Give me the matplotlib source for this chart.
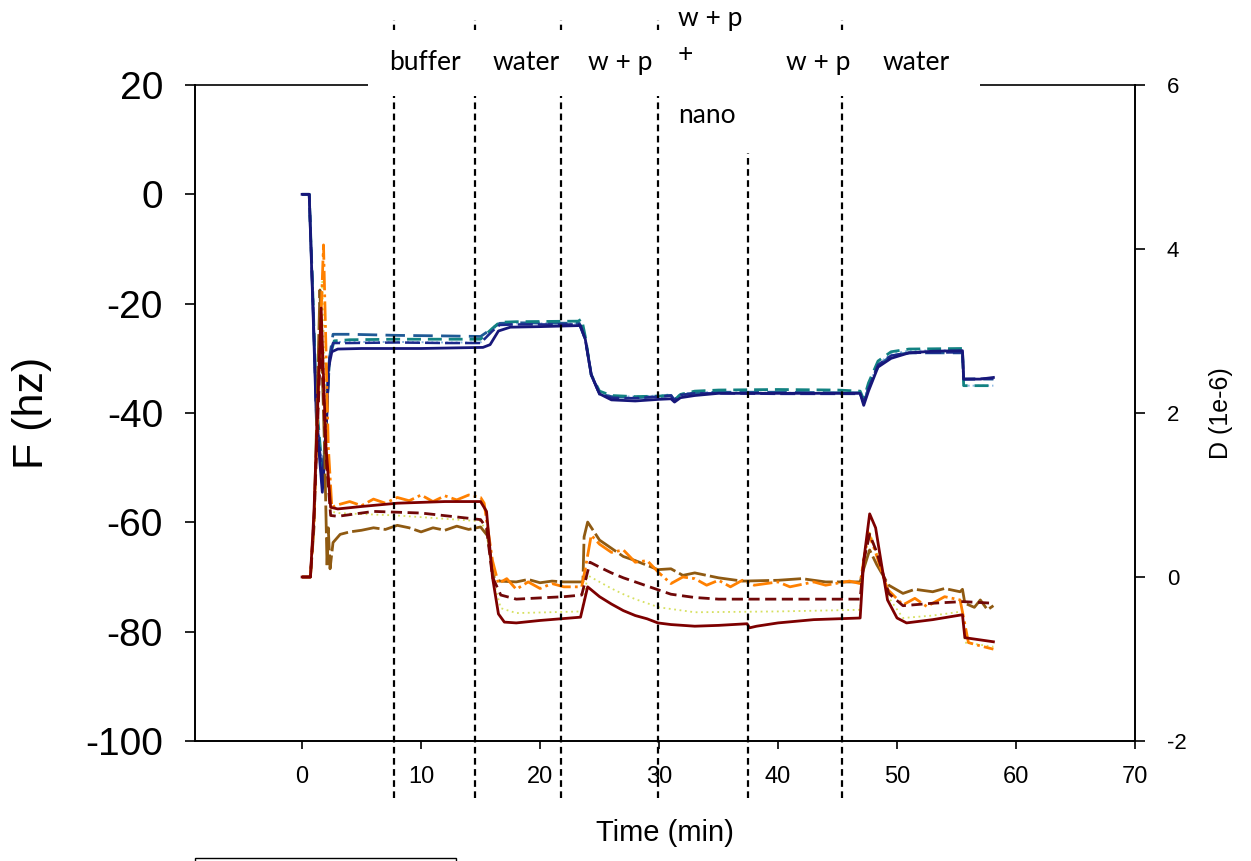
import matplotlib
matplotlib.use("Agg")
import matplotlib.pyplot as plt
import matplotlib.transforms as mtransforms
from matplotlib.patches import Rectangle

plt.rcParams["axes.unicode_minus"] = False

# frequency shifts (left axis, hz) - blue family
t_f_navy = [0, 0.6, 0.9, 1.2, 1.7, 2.0, 2.2, 2.5, 3.0, 5, 10, 15.2, 15.8, 16.5, 17.5, 20, 23.4, 23.8, 24.3, 25.0, 26.0, 28, 30, 31.0, 31.3, 31.8, 33, 35, 40, 45, 46.9, 47.2, 47.6, 48.4, 49.5, 51, 53, 55.5, 55.6, 57, 58.1]
f_navy = [0, 0, -20, -41, -54.5, -45, -32, -28.8, -28.3, -28.2, -28.2, -28.0, -27.5, -25.0, -24.3, -24.2, -24.0, -26.5, -33, -36.5, -37.6, -37.8, -37.5, -37.4, -38.0, -37.2, -36.8, -36.4, -36.4, -36.4, -36.4, -38.6, -36.0, -31.6, -30.0, -29.0, -28.7, -28.6, -33.8, -33.8, -33.5]

t_f_navy2 = [0, 0.6, 0.9, 1.2, 1.7, 2.0, 2.3, 2.6, 4, 8, 12, 15.0, 16.0, 16.6, 18, 23.3, 23.8, 24.3, 25, 26, 28, 30, 31.0, 31.3, 31.8, 33, 35, 40, 45, 46.9, 47.2, 47.6, 48.4, 49.5, 51, 55.5, 55.6, 58.1]
f_navy2 = [0, 0, -19, -40, -52, -43, -30, -27.2, -27.2, -27.1, -27.2, -27.2, -25.0, -23.9, -23.8, -23.8, -26.5, -33, -36.6, -37.2, -37.3, -37.0, -36.8, -37.6, -36.7, -36.4, -36.4, -36.5, -36.5, -36.5, -38.0, -35.5, -31.2, -29.5, -29.0, -28.9, -33.8, -33.7]

t_f_steel = [0, 0.6, 0.9, 1.2, 1.7, 2.0, 2.3, 2.6, 4, 8, 12, 15.0, 16.0, 16.6, 18, 23.3, 23.8, 24.3, 25, 26, 28, 30, 31.0, 31.3, 31.8, 33, 35, 40, 45, 46.9, 47.2, 47.6, 48.4, 49.5, 51, 55.5, 55.6, 58.1]
f_steel = [0, 0, -19, -40, -53, -44, -30, -25.6, -25.6, -25.8, -25.9, -26.0, -24.5, -23.6, -23.5, -23.6, -26.5, -33, -36.5, -37.0, -37.2, -37.0, -36.8, -37.7, -36.8, -36.3, -36.2, -36.2, -36.3, -36.3, -38.2, -35.5, -31.5, -29.5, -29.0, -29.0, -33.8, -33.8]

t_f_teal = [0, 0.6, 0.9, 1.2, 1.75, 2.0, 2.3, 2.7, 4, 8, 12, 15.0, 16.0, 16.6, 18, 23.2, 23.5, 23.8, 24.3, 25, 26, 28, 30, 31.0, 31.3, 31.8, 33, 35, 40, 45, 46.9, 47.2, 47.6, 48.4, 49.5, 51, 55.5, 55.6, 58.1]
f_teal = [0, 0, -18, -38, -51.7, -42, -30, -26.8, -26.6, -26.5, -26.5, -26.5, -24.5, -23.4, -23.3, -23.2, -22.8, -26, -33, -36.0, -36.8, -37.0, -36.9, -36.8, -37.6, -36.6, -36.0, -35.8, -35.7, -35.8, -36.0, -37.5, -34.5, -30.5, -28.8, -28.3, -28.2, -35.0, -35.0]

t_f_light = [0, 0.6, 0.9, 1.2, 1.7, 2.0, 2.3, 2.6, 4, 8, 12, 15.0, 16.0, 16.6, 18, 23.3, 23.8, 24.3, 25, 26, 28, 30, 31.0, 31.3, 31.8, 33, 35, 40, 45, 46.9, 47.2, 47.6, 48.4, 49.5, 51, 55.5, 55.6, 58.1]
f_light = [0, 0, -19, -39, -50, -42, -30, -27.0, -27.0, -27.0, -27.1, -27.1, -24.8, -23.7, -23.6, -23.6, -26.3, -33, -36.5, -36.9, -37.0, -36.8, -36.6, -37.4, -36.5, -36.2, -36.2, -36.3, -36.3, -36.3, -37.8, -35.0, -31.0, -29.2, -28.6, -28.5, -35.0, -35.0]

# dissipation shifts (right axis, 1e-6) - red/orange family
t_d_red = [0, 0.7, 1.0, 1.6, 2.0, 2.4, 3.0, 5, 8, 12, 15.0, 15.5, 16.0, 16.5, 17.0, 18, 20, 23.4, 24.0, 25, 26, 27, 28, 29, 29.9, 31, 33, 35, 37.4, 37.6, 38.2, 40, 43, 46.9, 47.2, 47.7, 48.2, 48.7, 49.2, 50.0, 50.8, 53, 55.5, 55.7, 58.1]
d_red = [0, 0, 0.8, 3.28, 1.6, 0.85, 0.83, 0.86, 0.9, 0.92, 0.92, 0.8, 0.0, -0.45, -0.55, -0.56, -0.53, -0.49, -0.12, -0.24, -0.33, -0.41, -0.47, -0.51, -0.56, -0.58, -0.6, -0.59, -0.57, -0.62, -0.6, -0.56, -0.52, -0.5, 0.2, 0.77, 0.6, 0.15, -0.28, -0.5, -0.56, -0.52, -0.46, -0.74, -0.79]

t_d_red2 = [0, 0.7, 1.0, 1.6, 2.0, 2.4, 3.0, 6, 10, 15.0, 15.5, 16.0, 16.7, 18, 22, 23.5, 24.2, 25, 26, 27, 28, 30, 31, 33, 35, 40, 46.9, 47.2, 47.7, 48.3, 49.3, 50.5, 53, 55.5, 58.1]
d_red2 = [0, 0, 0.7, 3.0, 1.5, 0.75, 0.74, 0.8, 0.78, 0.7, 0.6, 0.0, -0.22, -0.27, -0.24, -0.22, 0.18, 0.12, 0.05, -0.01, -0.06, -0.16, -0.21, -0.25, -0.27, -0.27, -0.27, 0.2, 0.52, 0.3, -0.2, -0.35, -0.32, -0.3, -0.32]

t_d_yellow = [0, 0.7, 1.0, 1.7, 2.1, 2.4, 3, 8, 15.0, 15.5, 16.0, 16.7, 18, 23.5, 24.0, 25, 26, 27, 28, 30, 33, 40, 46.9, 47.2, 47.7, 48.3, 49.3, 50.5, 53, 55.5, 55.7, 58.1]
d_yellow = [0, 0, 0.7, 3.6, 1.5, 0.8, 0.78, 0.75, 0.68, 0.55, 0.0, -0.38, -0.44, -0.42, 0.02, -0.06, -0.14, -0.21, -0.27, -0.37, -0.43, -0.42, -0.4, 0.2, 0.55, 0.3, -0.25, -0.5, -0.47, -0.42, -0.8, -0.85]

t_d_brown = [0, 0.7, 1.0, 1.5, 1.9, 2.1, 2.2, 2.35, 2.6, 3.2, 4, 5, 6, 7, 8, 9, 10, 11, 12, 13, 14, 15.0, 15.6, 16.1, 16.6, 18, 19, 20, 21, 22, 23.6, 23.7, 24.0, 25, 26, 27, 28, 29.9, 31, 32, 33, 35, 37, 40, 42, 44, 46.9, 47.2, 47.7, 48.3, 49.3, 50.5, 51.5, 53, 54, 55.3, 55.5, 55.7, 56.5, 57, 57.6, 58.1]
d_brown = [0, 0, 0.6, 3.5, 1.5, 0.12, 0.6, 0.1, 0.42, 0.52, 0.55, 0.57, 0.6, 0.58, 0.63, 0.6, 0.55, 0.6, 0.57, 0.62, 0.58, 0.61, 0.5, 0.0, -0.05, -0.06, -0.03, -0.07, -0.05, -0.06, -0.06, 0.49, 0.67, 0.45, 0.35, 0.25, 0.2, 0.09, 0.1, 0.02, 0.05, -0.01, -0.05, -0.04, -0.02, -0.06, -0.06, 0.1, 0.33, 0.15, -0.1, -0.2, -0.15, -0.18, -0.14, -0.18, -0.15, -0.32, -0.37, -0.28, -0.4, -0.35]

t_d_orange = [0, 0.7, 1.0, 1.8, 2.2, 2.5, 3, 4, 5, 6, 7, 8, 9, 10, 11, 12, 13, 14, 15.0, 15.3, 16.0, 16.5, 17.2, 18, 19, 20, 21, 22, 23.5, 23.8, 24.3, 25, 26, 27, 28, 29, 30, 31, 32, 33, 34, 35, 36, 37, 38, 40, 41, 43, 44, 46, 46.9, 47.2, 47.6, 48.2, 49.2, 50.5, 51.5, 52.5, 53, 54, 55.3, 55.6, 56.0, 57, 58.1]
d_orange = [0, 0, 0.7, 4.05, 1.6, 0.85, 0.88, 0.92, 0.87, 0.95, 0.9, 0.97, 0.93, 1.0, 0.92, 0.99, 0.94, 1.0, 0.97, 0.9, 0.2, -0.08, -0.02, -0.15, -0.06, -0.14, -0.08, -0.12, -0.12, 0.1, 0.51, 0.4, 0.3, 0.33, 0.18, 0.2, 0.05, -0.08, 0.0, -0.02, -0.1, -0.04, -0.12, -0.04, -0.1, -0.06, -0.12, -0.06, -0.1, -0.05, -0.08, 0.2, 0.54, 0.3, -0.15, -0.34, -0.26, -0.36, -0.32, -0.24, -0.28, -0.5, -0.8, -0.84, -0.88]

ylim_f = (-100, 20)
ylim_d = (-2, 6)
xlim_t = (-9, 70)
f_ticks = [-100, -80, -60, -40, -20, 0, 20]
d_ticks = [-2, 0, 2, 4, 6]
t_ticks = [0, 10, 20, 30, 40, 50, 60, 70]

# solution changes (min) and the labels written above the plot
switch_times = [7.7, 14.5, 21.8, 29.9, 45.4]
nano_line = 37.5
phase_labels = ["buffer", "water", "w + p", "w + p", "water"]
phase_x = [10.3, 18.8, 26.7, 43.4, 51.6]
nano_text = ["w + p", "+", "nano"]
nano_text_y = [1.101, 1.046, 0.953]

W, H = 1251, 861
fig = plt.figure(figsize=(W / 100, H / 100), dpi=100)
ax = fig.add_axes([195 / W, (H - 741) / H, 940 / W, 656 / H])
ax2 = ax.twinx()

ax.plot(t_f_light, f_light, color="#8cb8e2", lw=1.4, ls=(0, (1, 1.5)))
ax.plot(t_f_steel, f_steel, color="#1f5a96", lw=2, ls=(0, (7, 3)))
ax.plot(t_f_teal, f_teal, color="#128282", lw=2, ls=(0, (5, 2.5)))
ax.plot(t_f_navy2, f_navy2, color="#1c2a8c", lw=1.8, ls=(0, (6, 2)))
ax.plot(t_f_navy, f_navy, color="#17177a", lw=2)

ax2.plot(t_d_yellow, d_yellow, color="#d6e060", lw=1.3, ls=(0, (1, 2)))
ax2.plot(t_d_brown, d_brown, color="#8f5a12", lw=2, ls=(0, (10, 1.5)))
ax2.plot(t_d_orange, d_orange, color="#ff8000", lw=2, ls=(0, (7, 1.5, 1, 1.5)))
ax2.plot(t_d_red2, d_red2, color="#700808", lw=2, ls=(0, (4, 2)))
ax2.plot(t_d_red, d_red, color="#7d0000", lw=2)

ax.set_xlim(*xlim_t)
ax.set_ylim(*ylim_f)
ax2.set_ylim(*ylim_d)
ax.set_xticks(t_ticks)
ax.set_yticks(f_ticks)
ax2.set_yticks(d_ticks)

for a in (ax, ax2):
    for s in a.spines.values():
        s.set_linewidth(1.2)
    a.spines["top"].set_visible(False)
ax.tick_params(axis="y", direction="out", length=7, width=1.2, labelsize=28, pad=16)
ax.tick_params(axis="x", direction="out", length=6, width=1.2, labelsize=17, pad=12)
ax2.tick_params(axis="y", direction="out", length=7, width=1.2, labelsize=16, pad=16)
for lab in ax.get_yticklabels() + ax.get_xticklabels() + ax2.get_yticklabels():
    lab.set_fontfamily("Liberation Sans")

ax.set_ylabel("F (hz)", fontsize=31, family="Liberation Sans", labelpad=24)
ax2.set_ylabel("D (1e-6)", fontsize=18, family="Liberation Sans", labelpad=16)
ax.set_xlabel("Time (min)", fontsize=21, family="Liberation Sans", labelpad=22)

trans = mtransforms.blended_transform_factory(ax2.transData, ax2.transAxes)
for t in switch_times:
    ax2.plot([t, t], [-0.087, 1.099], transform=trans, color="black", lw=1.6,
             ls=(0, (3, 2)), clip_on=False, zorder=5)
ax2.plot([nano_line, nano_line], [-0.087, 0.896], transform=trans, color="black",
         lw=1.6, ls=(0, (3, 2)), clip_on=False, zorder=5)

# white label box that hides the top frame line
ax2.add_patch(Rectangle((5.55, 0.983), 51.4, 0.101, transform=trans, facecolor="white",
                        edgecolor="none", clip_on=False, zorder=6))
# top frame outside the label box
ax2.plot([xlim_t[0], 5.55], [1, 1], transform=trans, color="black", lw=1.2, clip_on=False)
ax2.plot([57.0, xlim_t[1]], [1, 1], transform=trans, color="black", lw=1.2, clip_on=False)

for lab, x in zip(phase_labels, phase_x):
    ax2.text(x, 1.034, lab, transform=trans, ha="center", va="center", fontsize=19,
             family="Lato", zorder=7)
for lab, y in zip(nano_text, nano_text_y):
    ax2.text(31.6, y, lab, transform=trans, ha="left", va="center", fontsize=19,
             family="Lato", zorder=7)

# edge of the legend box cut off at the bottom
fig.patches.append(Rectangle((195 / W, -0.05), 261 / W, 0.05 + 3 / H, transform=fig.transFigure,
                             facecolor="white", edgecolor="black", lw=1))

fig.savefig("out.png", dpi=100)
